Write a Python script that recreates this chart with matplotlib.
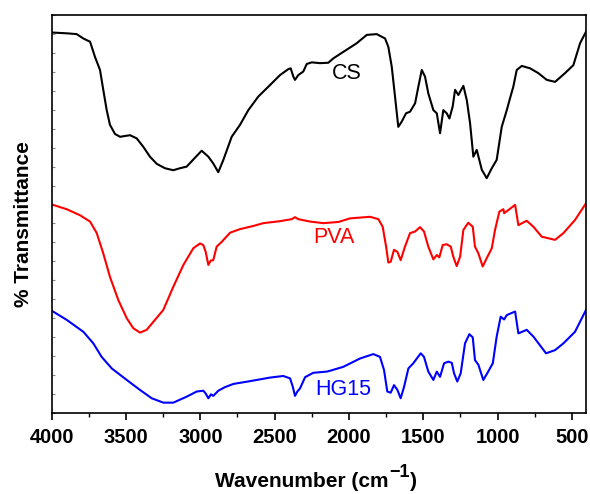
import numpy as np
import matplotlib
matplotlib.use("Agg")
import matplotlib.pyplot as plt
from matplotlib.ticker import MultipleLocator

plt.rcParams['font.family'] = ['Liberation Sans', 'DejaVu Sans']

# ---- data (wavenumber cm^-1, arbitrary transmittance) ----
cs_wn = [4000, 3899, 3832, 3787, 3754, 3742, 3709, 3675, 3653, 3630, 3608, 3574, 3540, 3473,
         3428, 3384, 3339, 3293, 3238, 3182, 3137, 3092, 3047, 2991, 2946, 2913, 2879, 2845,
         2789, 2733, 2677, 2610, 2531, 2464, 2408, 2392, 2374, 2363, 2341, 2307, 2284, 2250,
         2195, 2139, 2105, 2060, 1948, 1880, 1813, 1757, 1735, 1712, 1690, 1668, 1645, 1616,
         1589, 1555, 1533, 1510, 1488, 1466, 1432, 1409, 1387, 1365, 1342, 1324, 1302, 1286,
         1264, 1230, 1207, 1185, 1163, 1140, 1106, 1073, 1039, 1006, 972, 938, 916, 894, 871,
         837, 781, 726, 669, 613, 546, 490, 445, 405]
cs_t = [95.6, 95.4, 95.2, 94.1, 93.5, 93.3, 89.5, 86.2, 81.2, 76.1, 72.4, 70.1, 69.4, 69.8,
        69.0, 66.9, 64.4, 62.6, 61.5, 61.0, 61.5, 61.9, 63.7, 65.9, 64.4, 62.7, 60.5, 63.6,
        69.4, 72.4, 76.1, 79.5, 82.4, 84.9, 86.4, 86.6, 84.5, 83.7, 84.9, 85.8, 87.7, 88.1,
        87.9, 88.0, 89.1, 90.2, 92.9, 95.0, 95.2, 94.1, 92.0, 87.0, 79.5, 71.9, 73.2, 75.3,
        75.7, 77.8, 82.0, 86.2, 84.5, 80.3, 76.1, 75.3, 70.3, 76.1, 75.3, 74.0, 77.0, 81.2,
        79.9, 82.2, 78.6, 72.8, 64.4, 66.1, 61.1, 59.0, 61.5, 63.6, 71.9, 76.1, 79.1, 82.0, 86.2,
        87.2, 86.6, 85.4, 83.7, 83.2, 85.4, 87.4, 92.9, 95.8]

pva_wn = [4000, 3899, 3810, 3742, 3697, 3653, 3608, 3552, 3495, 3451, 3406, 3361, 3305, 3249,
          3182, 3114, 3047, 3002, 2980, 2964, 2946, 2930, 2913, 2890, 2856, 2800, 2733, 2643,
          2576, 2464, 2385, 2363, 2341, 2262, 2172, 2071, 1993, 1858, 1802, 1773, 1750, 1735,
          1719, 1697, 1674, 1652, 1623, 1589, 1555, 1522, 1495, 1466, 1432, 1409, 1392, 1369,
          1342, 1315, 1298, 1275, 1252, 1230, 1197, 1167, 1152, 1129, 1100, 1073, 1039, 1017,
          988, 961, 956, 927, 882, 860, 804, 759, 703, 613, 557, 479, 405]
pva_t = [52.4, 51.2, 49.7, 48.1, 45.2, 40.1, 34.2, 28.4, 23.8, 21.3, 20.2, 20.9, 23.4, 25.9,
         31.7, 37.2, 41.4, 42.6, 42.2, 40.5, 37.2, 38.3, 38.4, 41.8, 43.0, 45.3, 46.2, 47.0,
         47.7, 48.2, 48.7, 49.2, 48.7, 48.1, 47.7, 48.0, 48.9, 49.3, 48.7, 46.8, 41.8, 37.8,
         38.0, 41.0, 40.5, 38.4, 41.8, 45.2, 45.6, 46.7, 45.6, 41.8, 38.6, 39.7, 39.1, 42.2,
         42.4, 41.8, 39.3, 36.9, 39.3, 46.0, 47.8, 46.8, 41.8, 40.1, 36.8, 38.9, 41.4, 46.0,
         50.6, 51.2, 50.2, 51.0, 52.3, 47.2, 48.3, 46.8, 44.3, 43.5, 45.2, 48.5, 52.7]

hg_wn = [4000, 3899, 3787, 3720, 3664, 3596, 3495, 3406, 3327, 3249, 3182, 3092, 3024, 2980,
         2964, 2946, 2928, 2913, 2879, 2834, 2778, 2666, 2531, 2442, 2396, 2378, 2363, 2347,
         2329, 2295, 2240, 2150, 2128, 2038, 1925, 1836, 1791, 1764, 1742, 1719, 1697, 1674,
         1652, 1629, 1600, 1567, 1517, 1495, 1466, 1432, 1409, 1387, 1360, 1331, 1308, 1293,
         1271, 1248, 1219, 1190, 1167, 1152, 1129, 1096, 1069, 1032, 1006, 979, 956, 938, 882,
         860, 804, 759, 674, 613, 557, 479, 405]
hg_t = [25.7, 23.4, 20.4, 17.5, 14.1, 11.2, 8.3, 5.8, 3.7, 2.6, 2.6, 4.1, 5.4, 5.6,
        4.9, 3.7, 4.7, 4.3, 5.6, 6.5, 7.3, 8.0, 8.9, 9.3, 8.7, 6.6, 4.3, 5.4,
        6.2, 9.0, 10.1, 10.4, 10.6, 11.6, 13.7, 14.8, 14.1, 10.8, 5.4, 5.1, 7.0, 5.8,
        3.7, 6.6, 11.2, 12.5, 15.0, 14.1, 10.4, 8.3, 10.4, 9.1, 12.5, 12.9, 12.6, 10.0,
        7.9, 10.0, 17.5, 19.8, 19.0, 13.3, 12.1, 8.3, 10.0, 12.5, 19.2, 24.2, 23.5, 24.6, 25.5,
        20.0, 20.9, 19.2, 15.0, 15.8, 17.5, 20.4, 25.9]

series_names = ["CS", "PVA", "HG15"]
series_colors = ["black", "#ff0000", "#0000ff"]
label_pos = [(2013, 85.3), (2100, 44.0), (2040, 5.8)]

x_ticks = [4000, 3500, 3000, 2500, 2000, 1500, 1000, 500]

W, H = 590, 494
fig = plt.figure(figsize=(W / 100, H / 100), dpi=100)
ax = fig.add_axes([51.7 / W, 1 - 413 / H, (586 - 51.7) / W, (413 - 15) / H])

for wn, t, c in zip([cs_wn, pva_wn, hg_wn], [cs_t, pva_t, hg_t], series_colors):
    ax.plot(wn, t, color=c, lw=1.5, solid_joinstyle='round')

for name, c, (lx, ly) in zip(series_names, series_colors, label_pos):
    ax.text(lx, ly, name, color=c, fontsize=15.5, ha='center', va='center')

ax.set_xlim(4000, 405)
ax.set_ylim(0, 100)
ax.set_xticks(x_ticks)
ax.xaxis.set_minor_locator(MultipleLocator(250))
ax.tick_params(axis='x', which='major', direction='out', length=5, width=1.2, labelsize=14.5, pad=6)
ax.tick_params(axis='x', which='minor', direction='out', length=3, width=1.0)
for lab in ax.get_xticklabels():
    lab.set_fontweight('bold')
ax.set_yticks(np.linspace(0, 100, 22))
ax.tick_params(axis='y', which='major', direction='in', length=2, width=0.8, color='#888888',
               labelleft=False)
for sp in ax.spines.values():
    sp.set_linewidth(1.2)

# y label
fig.text(23.5 / W, 1 - 224 / H, "% Transmittance", rotation=90, fontsize=15,
         fontweight='bold', ha='center', va='center')

# x label built from pieces (large superscript)
base_y = 1 - 487 / H
t1 = fig.text(215 / W, base_y, "Wavenumber (cm", fontsize=15, fontweight='bold',
              ha='left', va='baseline')
fig.canvas.draw()
r = fig.canvas.get_renderer()
bb1 = t1.get_window_extent(r)
t2 = fig.text(bb1.x1 / W + 0.001, base_y + 10 / H, "\u22121", fontsize=13, fontweight='bold',
              ha='left', va='baseline')
bb2 = t2.get_window_extent(r)
t3 = fig.text(bb2.x1 / W + 0.001, base_y, ")", fontsize=15, fontweight='bold',
              ha='left', va='baseline')

fig.savefig("out.png", dpi=100)
